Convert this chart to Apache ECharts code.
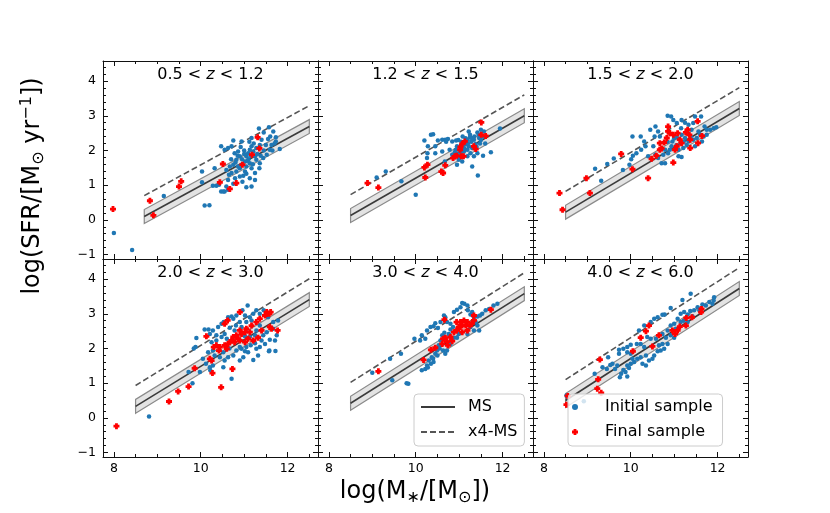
<!DOCTYPE html>
<html>
<head>
<meta charset="utf-8">
<script src="https://cdn.jsdelivr.net/npm/echarts@6/dist/echarts.min.js"></script>
<style>
  html, body { margin: 0; padding: 0; background: #fff; }
  #chart { width: 830px; height: 513px; }
</style>
</head>
<body>
<div id="chart"></div>
<script>
// 数据：每个红移区间的初始样本（蓝）与最终样本（红）
var zBins = [["0.5", "1.2"], ["1.2", "1.5"], ["1.5", "2.0"], ["2.0", "3.0"], ["3.0", "4.0"], ["4.0", "6.0"]];

// 主序列 MS 的端点
var msX0 = [8.7, 8.5, 8.5, 8.5, 8.5, 8.5];
var msX1 = [12.5, 12.5, 12.5, 12.5, 12.5, 12.5];
var msY0 = [0.095, 0.125, 0.22, 0.33, 0.42, 0.5];
var msY1 = [2.69, 3.0, 3.21, 3.41, 3.58, 3.73];
var msScatter = 0.2;
var x4Offset = 0.602;

var xMajor = [8, 10, 12];
var xMinor = [8.5, 9, 9.5, 10.5, 11, 11.5, 12.5];
var yMajor = [-1, 0, 1, 2, 3, 4];
var yMinor = [-0.8, -0.6, -0.4, -0.2, 0.2, 0.4, 0.6, 0.8, 1.2, 1.4, 1.6, 1.8,
  2.2, 2.4, 2.6, 2.8, 3.2, 3.4, 3.6, 3.8, 4.2, 4.4];

var blue1 = [[8.0,-0.38],[8.42,-0.87],[9.15,0.69],[10.03,1.08],[10.03,1.39],[10.09,0.41],[10.2,0.42],
  [10.28,0.98],[10.36,0.98],[10.47,2.12],[10.47,0.82],[10.55,0.82],[10.59,0.96],[10.63,1.15],[11.34,2.63],
  [11.57,2.67],[10.75,2.29],[10.94,2.26],[11.17,2.36],[11.45,2.52],[11.67,2.55],[11.73,2.38],[11.73,2.26],
  [11.82,2.04],[11.59,2.02],[11.52,1.88],[11.44,1.78],[11.36,1.63],[11.35,1.49],[11.25,1.35],[11.05,1.33],
  [10.98,1.27],[10.9,1.25],[11.25,1.15],[11.17,0.96],[11.05,0.94],[10.75,1.04],[10.63,0.87],[10.52,0.82],
  [10.55,2.02],[10.63,2.07],[10.71,2.12],[10.78,1.92],[10.86,1.97],[10.9,1.83],[10.82,1.73],[10.75,1.59],
  [10.67,1.54],[10.59,1.44],[10.71,1.35],[10.86,1.54],[10.94,1.59],[11.02,1.68],[11.05,1.83],[11.09,1.92],
  [11.13,2.02],[11.17,2.12],[11.21,1.97],[11.25,1.83],[11.28,1.73],[11.05,1.54],[11.13,1.63],[11.17,1.49],
  [11.28,2.07],[11.36,2.16],[11.4,2.31],[11.55,2.33],[11.5,2.16],[11.63,2.16],[10.9,1.49],[11.02,1.39],
  [10.82,1.39],[10.96,1.1],[10.79,1.2],[11.13,1.2],[10.42,1.01],[10.32,1.49],[10.95,1.75],[11.0,1.9],
  [11.1,1.75],[11.15,1.85],[11.2,1.6],[11.3,1.9],[11.0,2.0],[10.85,1.85],[10.8,1.65],[11.08,1.7],
  [11.22,2.2],[11.45,2.0],[11.38,1.85],[10.65,1.3],[10.7,1.75],[11.6,2.4],[11.7,2.2],[11.65,2.0],
  [10.92,2.1],[11.12,2.25]];
var red1 = [[7.98,0.31],[8.83,0.55],[8.91,0.13],[9.5,0.96],[9.55,1.11],[10.44,1.08],[10.51,1.61],
  [10.67,0.89],[10.82,1.06],[10.96,1.59],[11.18,1.88],[11.31,2.38],[11.35,2.06]];

var blue2 = [[9.1,1.22],[9.31,1.39],[9.67,1.11],[10.0,0.72],[10.2,2.29],[10.35,2.45],[10.4,2.47],[10.51,2.29],
  [10.61,2.31],[10.68,2.31],[10.74,2.33],[10.84,2.26],[10.93,2.29],[10.28,2.12],[10.45,2.12],[10.61,1.97],
  [10.27,1.92],[10.26,1.78],[10.45,1.92],[10.67,1.68],[10.78,2.02],[10.84,1.88],[10.95,1.59],[10.99,1.73],
  [11.3,1.54],[11.43,1.28],[11.55,1.85],[11.73,1.95],[11.94,2.63],[11.22,2.55],[11.42,2.52],[11.5,2.6],
  [11.57,2.55],[11.34,2.31],[11.25,2.38],[11.19,2.31],[11.15,2.19],[11.22,2.12],[11.3,2.07],[11.38,2.19],
  [11.46,2.36],[11.19,2.02],[11.11,1.97],[11.03,1.92],[11.26,1.92],[11.34,1.83],[11.19,1.83],[11.07,1.68],
  [10.99,1.92],[10.92,2.02],[10.95,2.12],[11.42,1.92],[11.1,2.1],[11.2,2.2],[11.28,2.25],[11.35,2.4],
  [11.4,2.1],[11.15,2.35],[11.05,2.25],[11.25,2.45],[11.45,2.45],[11.3,2.35],[11.12,2.05],[10.9,1.95],
  [11.0,1.8],[11.5,2.3],[11.55,2.4],[11.48,2.2],[11.08,2.4],[10.98,2.3],[11.6,2.2],[10.7,2.25]];
var red2 = [[8.89,1.06],[9.14,0.93],[10.2,1.51],[10.27,1.59],[10.22,1.22],[10.59,1.39],[10.63,1.35],
  [10.68,1.57],[10.86,1.78],[10.94,1.85],[10.9,1.83],[11.03,2.1],[11.02,2.02],[11.07,2.19],[11.13,2.26],
  [11.05,1.83],[11.1,1.83],[11.34,2.12],[11.38,2.04],[11.51,2.81],[11.51,2.45],[11.61,2.42]];

var blue3 = [[9.18,1.47],[9.32,1.13],[9.46,1.61],[9.61,1.77],[9.82,1.44],[9.97,1.59],[10.01,1.75],[10.05,1.85],
  [10.04,2.4],[10.23,2.4],[10.31,2.26],[10.45,2.6],[10.57,2.69],[10.63,2.55],[10.13,1.92],[10.24,2.02],
  [10.34,2.12],[10.4,1.83],[10.52,2.12],[10.57,1.88],[10.63,1.78],[10.71,1.63],[10.79,1.63],[10.85,3.0],
  [10.93,2.98],[10.98,2.88],[11.06,2.79],[11.17,2.88],[11.16,2.64],[11.25,2.8],[11.33,2.74],[11.44,2.79],
  [11.48,2.98],[11.62,2.98],[11.7,2.69],[11.75,2.6],[11.83,2.6],[11.91,2.64],[11.97,2.67],[11.1,1.83],
  [11.17,1.81],[11.1,2.02],[11.21,2.07],[11.29,2.16],[10.94,2.12],[10.9,2.02],[10.86,1.92],[10.79,2.02],
  [10.75,1.88],[10.96,2.26],[11.0,2.35],[11.06,2.38],[11.17,2.45],[11.25,2.36],[11.33,2.26],[11.44,2.31],
  [11.52,2.36],[11.48,2.12],[11.56,2.55],[11.64,2.26],[11.75,2.45],[11.68,2.4],[10.55,2.4],[10.67,2.4],
  [11.4,2.6],[11.05,2.15],[11.15,2.2],[11.38,2.4],[11.3,2.5],[11.6,2.45],[10.85,2.25],[11.22,2.25]];
var red3 = [[8.36,0.77],[8.43,0.29],[8.98,1.2],[9.06,0.77],[9.78,1.9],[10.04,1.46],[10.4,1.2],[10.48,1.76],
  [10.59,1.85],[10.67,2.02],[10.71,2.06],[10.77,2.23],[10.83,2.36],[10.86,2.55],[10.9,2.5],[10.98,1.65],
  [11.02,2.02],[11.06,2.12],[11.08,2.5],[11.13,2.31],[11.17,2.21],[11.27,2.52],[11.31,2.6],[11.35,2.45],
  [11.37,2.31],[11.37,2.07],[11.54,2.84],[11.55,2.21],[11.64,2.42],[10.86,2.69],[10.98,2.45],[10.67,2.21]];

var blue4 = [[8.81,0.04],[9.81,1.0],[9.72,1.32],[9.98,1.32],[9.88,2.04],[9.9,2.3],[9.84,2.0],[10.09,2.55],
  [10.18,2.55],[10.21,2.42],[10.28,2.52],[10.36,2.38],[10.4,2.62],[10.48,2.71],[10.53,2.76],[10.63,2.9],
  [10.71,2.92],[10.75,2.86],[10.82,2.95],[10.96,3.1],[11.08,3.24],[11.02,2.95],[11.13,2.9],[11.21,3.0],
  [11.28,3.1],[11.36,3.0],[11.45,3.1],[11.55,2.9],[11.67,2.76],[11.78,2.81],[10.21,1.46],[10.28,1.51],
  [10.22,1.37],[10.05,1.7],[10.12,1.56],[10.52,1.46],[10.55,1.65],[10.44,1.75],[10.32,1.8],[10.71,1.13],
  [10.9,1.65],[10.98,1.75],[11.21,1.67],[11.09,1.89],[11.28,1.99],[11.36,2.04],[11.48,2.13],[11.58,1.94],
  [11.59,2.25],[11.71,2.23],[11.75,2.38],[11.57,1.92],[10.75,1.8],[10.63,1.75],[10.82,1.94],[10.94,1.99],
  [11.05,2.04],[11.15,2.09],[11.25,2.15],[11.44,2.38],[11.52,2.47],[11.17,2.81],[11.05,2.76],[10.9,2.76],
  [10.81,2.66],[10.67,2.6],[10.55,2.42],[10.48,2.33],[10.6,2.28],[10.36,2.23],[10.25,2.18],[10.28,1.94],
  [10.17,1.89],[10.52,1.89],[10.66,2.0],[10.78,2.52],[10.94,2.62],[11.28,2.52],[11.36,2.66],[11.4,2.23],
  [11.25,2.38],[11.13,2.33],[11.67,2.57],[11.02,2.35],[10.9,2.04],[11.32,1.8],[11.02,1.92],[11.72,1.93]];
var red4 = [[8.06,-0.24],[9.27,0.47],[9.48,0.76],[9.72,0.9],[9.86,1.43],[10.47,0.88],[10.27,1.29],[10.25,1.65],
  [10.21,1.7],[10.13,2.35],[10.3,2.04],[10.36,2.09],[10.42,1.94],[10.62,2.81],[10.55,2.71],[10.73,1.41],
  [10.9,3.05],[10.55,2.09],[10.63,2.13],[10.71,2.23],[10.75,2.33],[10.82,2.38],[10.86,2.28],[10.94,2.42],
  [10.9,2.52],[11.02,2.47],[11.05,2.57],[11.13,2.47],[11.17,2.66],[11.21,2.23],[11.28,2.76],[11.32,2.31],
  [11.36,2.86],[11.4,2.52],[11.48,2.95],[11.52,3.05],[11.58,3.0],[11.61,3.05],[11.59,2.62],[11.63,2.57],
  [11.77,2.52],[10.67,2.18],[10.78,2.18],[11.02,2.18],[11.09,2.28],[10.6,1.99],[10.44,2.04],[10.9,2.23]];

var blue5 = [[9.0,1.3],[9.41,1.7],[9.46,1.08],[9.66,1.85],[9.79,1.0],[9.83,0.98],[9.97,2.28],[10.1,2.23],
  [10.14,2.38],[10.22,2.28],[10.26,2.52],[10.34,2.62],[10.41,2.64],[10.45,2.73],[10.51,2.59],[10.57,2.76],
  [10.65,2.95],[10.68,2.9],[10.72,2.76],[10.14,1.37],[10.22,1.41],[10.26,1.51],[10.3,1.65],[10.35,1.56],
  [10.41,1.61],[10.37,1.75],[10.45,1.85],[10.49,1.94],[10.53,2.09],[10.57,2.23],[10.63,1.94],[10.68,1.85],
  [10.72,1.94],[10.61,2.38],[10.66,2.45],[10.8,2.71],[10.86,2.62],[10.88,3.05],[10.95,3.12],[11.03,3.19],
  [11.12,3.29],[11.07,3.31],[11.19,3.24],[11.2,3.1],[11.26,2.98],[11.3,3.05],[11.34,2.9],[11.42,2.92],
  [11.48,2.95],[11.53,3.0],[11.61,3.1],[11.69,3.14],[11.79,3.24],[11.88,3.29],[11.38,2.76],[11.42,2.66],
  [11.46,2.52],[11.26,2.62],[11.19,2.42],[10.99,2.42],[10.88,2.31],[10.76,2.42],[10.8,2.13],[10.95,2.31],
  [11.34,2.52],[10.8,2.55],[10.28,1.45],[10.4,1.7],[10.5,1.8],[10.55,2.0]];
var red5 = [[9.14,1.34],[10.18,1.67],[10.35,1.96],[10.45,2.02],[10.66,2.83],[10.63,2.28],[10.68,2.31],
  [10.61,2.13],[10.74,2.09],[10.72,2.2],[10.84,2.21],[10.8,2.33],[10.88,2.47],[10.94,2.52],[10.99,2.57],
  [11.03,2.76],[11.07,2.66],[11.11,2.81],[11.15,2.66],[11.19,2.76],[11.25,2.66],[11.29,2.72],[11.34,2.81],
  [11.19,2.52],[11.07,2.47],[11.34,2.95],[11.73,3.12],[10.94,2.76],[10.99,2.62]];

var blue6 = [[8.52,0.64],[8.55,0.6],[8.92,0.48],[9.17,1.27],[9.35,1.46],[9.45,1.41],[9.48,1.75],[9.64,1.41],
  [9.69,1.51],[9.75,1.17],[9.78,1.27],[9.83,1.38],[9.88,1.32],[9.92,1.19],[9.92,1.51],[9.96,1.44],[10.0,1.56],
  [10.04,1.7],[10.08,1.61],[9.73,1.96],[9.83,1.99],[9.92,2.04],[10.0,2.11],[10.14,2.13],[10.23,2.13],
  [10.31,2.04],[10.35,1.8],[10.23,1.75],[10.15,1.7],[10.27,1.56],[10.35,1.51],[10.42,1.65],[10.5,1.7],
  [10.54,1.8],[10.62,1.92],[10.69,1.94],[10.77,1.99],[10.85,2.13],[10.73,2.13],[10.65,2.09],[10.81,2.31],
  [10.92,2.38],[11.0,2.31],[10.19,2.52],[10.31,2.66],[10.46,2.76],[10.54,2.86],[10.62,2.9],[10.73,2.97],
  [10.78,2.98],[10.92,3.17],[11.19,3.4],[11.38,3.58],[11.15,3.0],[11.23,3.05],[11.31,2.98],[11.37,3.08],
  [11.46,3.1],[11.54,3.19],[11.58,3.1],[11.65,3.27],[11.73,3.24],[11.81,3.34],[11.91,3.38],[11.92,3.48],
  [11.88,3.29],[11.08,2.86],[11.15,2.76],[11.22,2.8],[11.31,2.76],[11.42,2.93],[11.0,2.71],[10.92,2.66],
  [10.85,2.52],[10.73,2.42],[11.04,2.57],[9.58,1.56],[9.53,1.52],[9.92,1.89],[10.0,1.85],[10.38,2.33],
  [10.46,2.28],[10.58,2.28],[9.73,1.85]];
var red6 = [[8.52,0.38],[8.55,0.63],[9.25,1.11],[9.23,0.84],[9.32,0.72],[9.29,1.68],[10.05,1.92],[10.23,2.31],
  [10.35,2.5],[10.42,2.66],[10.5,2.06],[10.65,2.38],[10.96,2.52],[11.02,2.42],[11.08,2.52],[11.13,2.63],
  [11.27,2.66],[11.28,2.88],[11.41,2.9],[11.62,3.05],[11.63,3.14]];

var blues = [blue1, blue2, blue3, blue4, blue5, blue6];
var reds = [red1, red2, red3, red4, red5, red6];

var FONT = "DejaVu Sans";
var xMin = 7.75, xMax = 12.7, yMin = -1.13, yMax = 4.58;
var lefts = [103, 318, 533], tops = [61, 259], W = 215, H = 198;
// 粗十字（类似 matplotlib 的 "P" 标记）
var PLUS = "path://M0.8,0H2.2V0.8H3V2.2H2.2V3H0.8V2.2H0V0.8H0.8Z";

function fmt(v) { return v < 0 ? "\u2212" + (-v) : String(v); }

function axis(dim, gi, pos, ticks, len, showLine, showLabel) {
  return {
    type: "value", gridIndex: gi, position: pos,
    min: dim === "x" ? xMin : yMin, max: dim === "x" ? xMax : yMax,
    axisLine: { show: showLine, onZero: false, lineStyle: { color: "#111", width: 1 } },
    axisTick: { show: true, inside: true, length: len, customValues: ticks, lineStyle: { color: "#111", width: 1 } },
    axisLabel: { show: showLabel, customValues: dim === "x" ? xMajor : yMajor, formatter: fmt,
      color: "#000", fontFamily: FONT, fontSize: 12.5, margin: dim === "x" ? 5 : 7 },
    splitLine: { show: false }
  };
}

var grids = [], xAxes = [], yAxes = [], series = [], graphics = [];
for (var i = 0; i < 6; i++) {
  var col = i % 3, row = Math.floor(i / 3);
  grids.push({ left: lefts[col], top: tops[row], width: W, height: H });
  xAxes.push(axis("x", i, "bottom", xMajor, 5, true, row === 1));
  xAxes.push(axis("x", i, "bottom", xMinor, 3, false, false));
  xAxes.push(axis("x", i, "top", xMajor, 5, true, false));
  xAxes.push(axis("x", i, "top", xMinor, 3, false, false));
  yAxes.push(axis("y", i, "left", yMajor, 5, true, col === 0));
  yAxes.push(axis("y", i, "left", yMinor, 3, false, false));
  yAxes.push(axis("y", i, "right", yMajor, 5, true, false));
  yAxes.push(axis("y", i, "right", yMinor, 3, false, false));

  var ax = 4 * i;
  var x0 = msX0[i], x1 = msX1[i], y0 = msY0[i], y1 = msY1[i];

  // MS 的 ±0.2 dex 带
  series.push({
    type: "custom", xAxisIndex: ax, yAxisIndex: ax, silent: true, z: 1,
    data: [[x0, x1, y0, y1]], encode: { x: [0, 1], y: [2, 3] },
    renderItem: function (params, api) {
      var a0 = api.value(0), a1 = api.value(1), b0 = api.value(2), b1 = api.value(3);
      var pts = [api.coord([a0, b0 - msScatter]), api.coord([a1, b1 - msScatter]),
                 api.coord([a1, b1 + msScatter]), api.coord([a0, b0 + msScatter])];
      return { type: "polygon", shape: { points: pts },
               style: { fill: "#e3e3e3", stroke: "#8a8a8a", lineWidth: 1.2 } };
    }
  });
  series.push({
    type: "line", name: "MS", xAxisIndex: ax, yAxisIndex: ax, silent: true, z: 2,
    symbol: "none", data: [[x0, y0], [x1, y1]],
    itemStyle: { color: "#3a3a3a" },
    lineStyle: { color: "#3a3a3a", width: 1.6 }
  });
  series.push({
    type: "line", name: "x4-MS", xAxisIndex: ax, yAxisIndex: ax, silent: true, z: 2,
    symbol: "none", data: [[x0, y0 + x4Offset], [x1, y1 + x4Offset]],
    itemStyle: { color: "#555" },
    lineStyle: { color: "#555", width: 1.6, type: [6, 3] }
  });
  series.push({
    type: "scatter", name: "Initial sample", xAxisIndex: ax, yAxisIndex: ax, z: 3,
    symbolSize: 4.5, data: blues[i], itemStyle: { color: "#1f77b4", opacity: 1 }
  });
  series.push({
    type: "scatter", name: "Final sample", xAxisIndex: ax, yAxisIndex: ax, z: 4,
    symbol: PLUS, symbolSize: 6, data: reds[i], itemStyle: { color: "#ff0000", opacity: 1 }
  });

  graphics.push({
    type: "text", x: lefts[col] + W / 2, y: tops[row] + 14, z: 20,
    style: {
      text: "{n|" + zBins[i][0] + " < }{i|z}{n| < " + zBins[i][1] + "}",
      align: "center", verticalAlign: "middle",
      rich: {
        n: { fontFamily: FONT, fontSize: 16, fill: "#000" },
        i: { fontFamily: FONT, fontSize: 16, fontStyle: "italic", fill: "#000" }
      }
    }
  });
}

graphics.push({
  type: "text", x: 415, y: 492, z: 20,
  style: {
    text: "{a|log(M}{s|\u2217}{a|/[M}{s|\u2299}{a|])}",
    align: "center", verticalAlign: "middle",
    rich: {
      a: { fontFamily: FONT, fontSize: 24, fill: "#000" },
      s: { fontFamily: FONT, fontSize: 16, fill: "#000", padding: [12, 0, 0, 0] }
    }
  }
});
graphics.push({
  type: "text", x: 33, y: 186, rotation: Math.PI / 2, z: 20,
  style: {
    text: "{a|log(SFR/[M}{s|\u2299}{a| yr}{p|\u22121}{a|])}",
    align: "center", verticalAlign: "middle",
    rich: {
      a: { fontFamily: FONT, fontSize: 24, fill: "#000" },
      s: { fontFamily: FONT, fontSize: 16, fill: "#000", padding: [12, 0, 0, 0] },
      p: { fontFamily: FONT, fontSize: 16, fill: "#000", padding: [0, 0, 12, 0] }
    }
  }
});

var legendBase = {
  orient: "vertical", itemGap: 9, selectedMode: false, z: 10,
  borderColor: "#cccccc", borderWidth: 1, borderRadius: 4,
  backgroundColor: "rgba(255,255,255,0.8)"
};

var option = {
  animation: false,
  backgroundColor: "#fff",
  grid: grids,
  xAxis: xAxes,
  yAxis: yAxes,
  legend: [
    Object.assign({}, legendBase, {
      data: ["MS", "x4-MS"], left: 414, top: 394, padding: [5, 7, 6, 6],
      itemWidth: 34, itemHeight: 14,
      itemStyle: { opacity: 0 },
      textStyle: { fontFamily: FONT, fontSize: 16, color: "#000", padding: [0, 0, 0, 8] }
    }),
    Object.assign({}, legendBase, {
      data: ["Initial sample", "Final sample"], left: 568, top: 394, padding: [5, 10, 6, 4],
      itemWidth: 40, itemHeight: 6,
      textStyle: { fontFamily: FONT, fontSize: 16, color: "#000", padding: [0, 0, 0, 5] }
    })
  ],
  graphic: graphics,
  series: series
};

var myChart = echarts.init(document.getElementById("chart"));
myChart.setOption(option);
</script>
</body>
</html>
